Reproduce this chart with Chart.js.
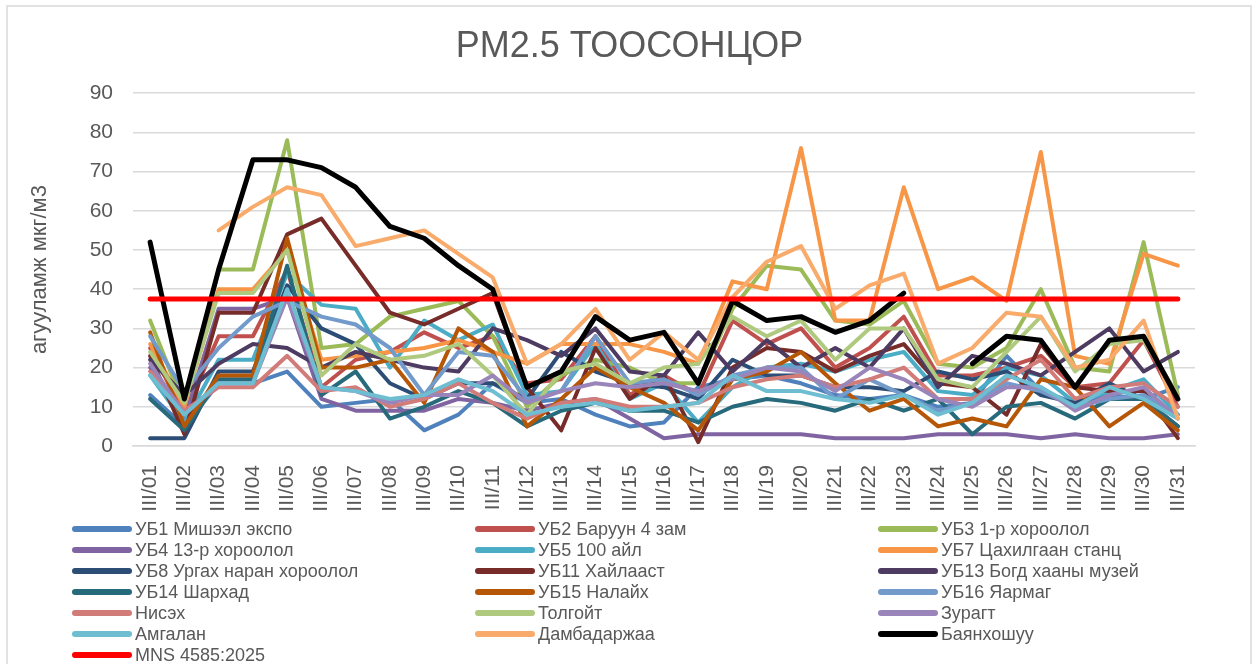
<!DOCTYPE html>
<html>
<head>
<meta charset="utf-8">
<script src="https://cdn.jsdelivr.net/npm/chart.js@4.4.1/dist/chart.umd.min.js"></script>
<style>
  html, body { margin: 0; padding: 0; background: #fff; }
</style>
</head>
<body>
<canvas id="myChart" width="1259" height="664"></canvas>
<script>
const days = ['III/01', 'III/02', 'III/03', 'III/04', 'III/05', 'III/06', 'III/07', 'III/08', 'III/09', 'III/10',
    'III/11', 'III/12', 'III/13', 'III/14', 'III/15', 'III/16', 'III/17', 'III/18', 'III/19', 'III/20',
    'III/21', 'III/22', 'III/23', 'III/24', 'III/25', 'III/26', 'III/27', 'III/28', 'III/29', 'III/30', 'III/31'];

const yTicks = [0, 10, 20, 30, 40, 50, 60, 70, 80, 90];

// station readings, мкг/м3
const ub1 = [13, 5, 16, 16, 19, 10, 11, 12, 4, 8, 16, 11, 12, 8, 5, 6, 15, 17, 18, 16, 13, 12, 13, 10, 11, 23, 14, 11, 13, 12, 15];
const ub2 = [25, 8, 28, 28, 45, 15, 22, 24, 29, 25, 28, 16, 17, 28, 13, 18, 13, 32, 26, 30, 20, 25, 33, 18, 18, 20, 23, 15, 16, 27, 10];
const ub3 = [32, 10, 45, 45, 78, 25, 26, 33, 35, 37, 28, 10, 18, 22, 20, 16, 16, 35, 46, 45, 32, 31, 37, 21, 20, 25, 40, 20, 19, 52, 13];
const ub4 = [20, 7, 35, 35, 38, 12, 9, 9, 9, 12, 11, 9, 11, 12, 7, 2, 3, 3, 3, 3, 2, 2, 2, 3, 3, 3, 2, 3, 2, 2, 3];
const ub5 = [18, 6, 22, 22, 44, 36, 35, 20, 32, 27, 31, 13, 14, 26, 12, 16, 6, 15, 20, 21, 19, 22, 24, 14, 13, 20, 18, 11, 14, 17, 8];
const ub7 = [26, 10, 40, 40, 50, 22, 23, 24, 25, 27, 24, 21, 26, 26, 26, 24, 21, 42, 40, 76, 32, 32, 66, 40, 43, 37, 75, 23, 21, 49, 46];
const ub8 = [2, 2, 19, 19, 41, 30, 26, 16, 12, 16, 16, 12, 24, 19, 16, 15, 12, 22, 18, 18, 15, 15, 14, 19, 17, 19, 13, 11, 16, 12, 5];
const ub11 = [23, 3, 34, 34, 54, 58, 46, 34, 31, 35, 39, 15, 4, 25, 12, 18, 1, 20, 25, 24, 19, 23, 26, 16, 15, 8, 26, 15, 14, 14, 2];
const ub13 = [22, 13, 21, 26, 25, 20, 24, 22, 20, 19, 30, 27, 23, 30, 19, 18, 29, 19, 27, 20, 25, 20, 30, 15, 23, 21, 18, 24, 30, 19, 24];
const ub14 = [12, 4, 17, 17, 46, 13, 19, 7, 10, 14, 11, 5, 9, 11, 9, 9, 6, 10, 12, 11, 9, 12, 9, 12, 3, 10, 11, 7, 12, 12, 5];
const ub15 = [29, 5, 18, 18, 53, 20, 20, 22, 11, 30, 24, 5, 12, 20, 15, 11, 4, 17, 19, 24, 16, 9, 12, 5, 7, 5, 17, 15, 5, 11, 4];
const ub16 = [28, 14, 25, 33, 37, 33, 31, 25, 13, 24, 23, 12, 14, 28, 16, 17, 13, 18, 20, 20, 12, 17, 13, 9, 11, 16, 14, 10, 12, 13, 8];
const nisekh = [19, 9, 15, 15, 23, 14, 15, 10, 12, 16, 11, 7, 11, 12, 10, 10, 11, 15, 17, 18, 15, 17, 20, 12, 12, 17, 22, 12, 15, 16, 10];
const tolgoit = [24, 11, 39, 39, 50, 18, 26, 22, 23, 26, 18, 8, 19, 21, 16, 20, 21, 33, 28, 32, 22, 30, 30, 17, 15, 24, 33, 19, 26, 27, 13];
const zuragt = [21, 8, 16, 16, 38, 15, 14, 11, 13, 13, 18, 11, 14, 16, 15, 16, 14, 17, 20, 19, 14, 20, 17, 12, 10, 15, 15, 9, 13, 15, 7];
const amgalan = [18, 8, 16, 16, 40, 15, 14, 12, 13, 17, 14, 8, 10, 11, 9, 10, 11, 18, 14, 14, 12, 11, 13, 8, 11, 18, 15, 10, 15, 12, 7];
const dambadarjaa = [null, null, 55, 61, 66, 64, 51, 53, 55, 49, 43, 21, 26, 35, 22, 29, 22, 38, 47, 51, 35, 41, 44, 21, 25, 34, 33, 20, 22, 32, 7];
const bayankhoshuu = [52, 12, 45, 73, 73, 71, 66, 56, 53, 46, 40, 15, 19, 33, 27, 29, 16, 37, 32, 33, 29, 32, 39, null, 21, 28, 27, 15, 27, 28, 12];
const mns = [37.5, 37.5, 37.5, 37.5, 37.5, 37.5, 37.5, 37.5, 37.5, 37.5, 37.5, 37.5, 37.5, 37.5, 37.5, 37.5,
    37.5, 37.5, 37.5, 37.5, 37.5, 37.5, 37.5, 37.5, 37.5, 37.5, 37.5, 37.5, 37.5, 37.5, 37.5];

const series = [
    ['УБ1 Мишээл экспо', ub1, '#4F81BD'],
    ['УБ2 Баруун 4 зам', ub2, '#C0504D'],
    ['УБ3 1-р хороолол', ub3, '#9BBB59'],
    ['УБ4 13-р хороолол', ub4, '#8064A2'],
    ['УБ5 100 айл', ub5, '#4BACC6'],
    ['УБ7 Цахилгаан станц', ub7, '#F79646'],
    ['УБ8 Ургах наран хороолол', ub8, '#2C4D75'],
    ['УБ11 Хайлааст', ub11, '#772C2A'],
    ['УБ13 Богд хааны музей', ub13, '#4D3B62'],
    ['УБ14 Шархад', ub14, '#276A7C'],
    ['УБ15 Налайх', ub15, '#B65708'],
    ['УБ16 Яармаг', ub16, '#729ACA'],
    ['Нисэх', nisekh, '#D27C79'],
    ['Толгойт', tolgoit, '#AFCA7F'],
    ['Зурагт', zuragt, '#9A85BA'],
    ['Амгалан', amgalan, '#6FBDD1'],
    ['Дамбадаржаа', dambadarjaa, '#F9AB6B'],
    ['Баянхошуу', bayankhoshuu, '#000000'],
    ['MNS 4585:2025', mns, '#FF0000']
];

const grey = '#595959';
const fontFamily = "'Liberation Sans', Arial, sans-serif";

// border round the whole chart + 3-column legend like Excel's
const frameAndLegend = {
    id: 'frameAndLegend',
    beforeDraw(chart) {
        const c = chart.ctx;
        c.save();
        c.fillStyle = '#fff';
        c.fillRect(0, 0, chart.width, chart.height);
        c.strokeStyle = '#d9d9d9';
        c.lineWidth = 1.5;
        c.strokeRect(7, 6, 1244, 700);
        c.restore();
    },
    afterDraw(chart) {
        const c = chart.ctx;
        const colX = [75, 478, 881];
        c.save();
        c.font = '18px ' + fontFamily;
        c.textBaseline = 'middle';
        c.lineCap = 'round';
        chart.data.datasets.forEach((ds, i) => {
            const x = colX[i % 3];
            const y = 529 + Math.floor(i / 3) * 21;
            c.strokeStyle = ds.borderColor;
            c.lineWidth = 6;
            c.beginPath();
            c.moveTo(x, y);
            c.lineTo(x + 54, y);
            c.stroke();
            c.fillStyle = grey;
            c.fillText(ds.label, x + 60, y + 1);
        });
        c.restore();
    }
};

const ctx = document.getElementById('myChart');

new Chart(ctx, {
    type: 'line',
    data: {
        labels: days,
        datasets: series.map((s, i) => ({
            label: s[0],
            data: s[1],
            borderColor: s[2],
            backgroundColor: s[2],
            borderWidth: (i >= series.length - 2) ? 5 : 4,
            pointRadius: 0,
            tension: 0,
            fill: false,
            spanGaps: false,
            borderJoinStyle: 'round',
            borderCapStyle: 'round',
            order: series.length - i
        }))
    },
    options: {
        responsive: false,
        animation: false,
        layout: {
            padding: { top: 0, left: 0, right: 0, bottom: 150 }
        },
        plugins: {
            legend: { display: false },
            tooltip: { enabled: false },
            title: {
                display: true,
                text: 'PM2.5 ТООСОНЦОР',
                color: grey,
                font: { family: fontFamily, size: 36, weight: 'normal' },
                padding: { top: 25, bottom: 25 }
            }
        },
        scales: {
            x: {
                offset: true,
                grid: { display: false },
                border: { display: true, color: '#d9d9d9', width: 1.5 },
                ticks: {
                    color: grey,
                    font: { family: fontFamily, size: 21 },
                    minRotation: 90,
                    maxRotation: 90,
                    autoSkip: false,
                    padding: 11
                },
                afterFit(scale) { scale.height = 68; }
            },
            y: {
                min: yTicks[0],
                max: yTicks[yTicks.length - 1],
                afterBuildTicks(scale) { scale.ticks = yTicks.map(v => ({ value: v })); },
                grid: { color: '#d9d9d9', lineWidth: 1.5, drawTicks: false },
                border: { display: false },
                ticks: {
                    color: grey,
                    font: { family: fontFamily, size: 21 },
                    padding: 20
                },
                title: {
                    display: true,
                    text: 'агууламж мкг/м3',
                    color: grey,
                    font: { family: fontFamily, size: 22 },
                    padding: { top: 27, bottom: 0 }
                },
                afterFit(scale) { scale.width = 133; }
            },
            // empty right-hand margin so the plot ends where Excel's does
            yRight: {
                position: 'right',
                display: true,
                grid: { display: false },
                border: { display: false },
                ticks: { display: false },
                afterFit(scale) { scale.width = 64; }
            }
        }
    },
    plugins: [frameAndLegend]
});
</script>
</body>
</html>
